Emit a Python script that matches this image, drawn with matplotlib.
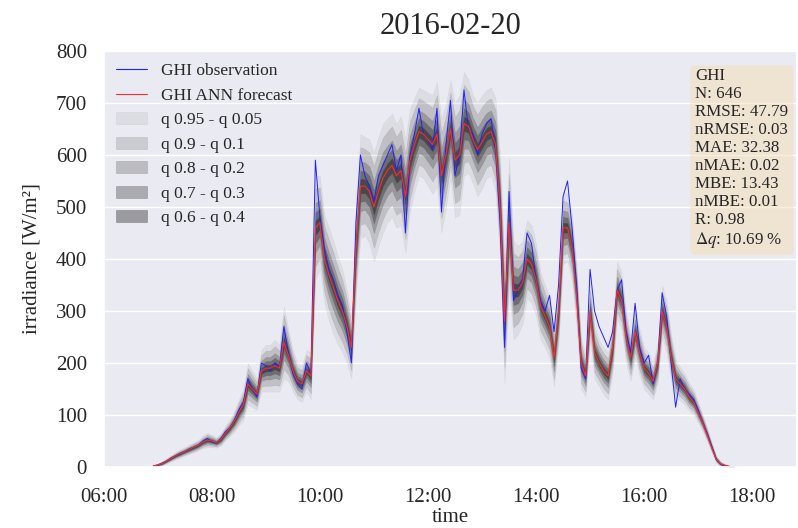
import numpy as np
import pandas as pd
import matplotlib
matplotlib.use("Agg")
import matplotlib.pyplot as plt
import matplotlib.dates as mdates
import seaborn as sns
from matplotlib.lines import Line2D
from matplotlib.patches import Patch

# Werte (5-Minuten-Raster, 06:55 - 17:40)
zeit = pd.date_range("2016-02-20 06:55", "2016-02-20 17:40", freq="5min")

ghi_obs = [2, 4, 8, 12, 18, 22, 27, 30,
           35, 38, 42, 50, 55, 48,
           46, 55, 68, 75, 90, 110,
           125, 170, 150, 135, 200, 195,
           185, 200, 190, 270, 220, 180,
           160, 150, 200, 180, 590, 480,
           420, 380, 360, 330, 310, 260,
           200, 470, 600, 560, 540, 510,
           560, 580, 600, 620, 570, 600,
           450, 600, 640, 690, 640, 630,
           610, 690, 490, 620, 705, 560,
           600, 725, 650, 640, 600, 640,
           660, 670, 610, 470, 230, 530,
           320, 340, 360, 450, 430, 360,
           320, 300, 330, 260, 350, 520,
           550, 460, 350, 190, 170, 380,
           300, 270, 250, 230, 260, 340,
           360, 260, 220, 315, 230, 200,
           215, 160, 200, 335, 290, 200,
           115, 170, 150, 140, 130, 110,
           85, 65, 40, 15, 5, 2, 1, 0]

ghi_ann = [2, 4, 7, 12, 17, 22, 26, 30,
           34, 38, 42, 48, 52, 50,
           47, 53, 65, 75, 88, 105,
           120, 160, 150, 140, 185, 190,
           190, 195, 190, 240, 215, 185,
           165, 160, 185, 175, 460, 470,
           400, 370, 345, 320, 300, 270,
           230, 420, 540, 540, 530, 500,
           530, 555, 570, 580, 560, 570,
           520, 590, 620, 645, 640, 630,
           620, 640, 560, 600, 650, 590,
           600, 660, 655, 630, 610, 625,
           640, 645, 620, 500, 280, 470,
           340, 340, 355, 400, 390, 360,
           310, 290, 270, 210, 300, 460,
           460, 420, 330, 200, 175, 300,
           220, 200, 185, 175, 230, 340,
           320, 250, 210, 260, 220, 190,
           180, 165, 200, 300, 270, 210,
           170, 160, 150, 135, 125, 105,
           85, 62, 38, 15, 6, 3, 1, 0]

# halbe Breite des q0.95 - q0.05 Bandes
spread = [2, 3, 4, 5, 6, 7, 8, 8,
          9, 10, 10, 12, 14, 12,
          10, 12, 14, 16, 20, 25,
          30, 40, 35, 30, 40, 45,
          45, 50, 45, 70, 50, 40,
          35, 35, 40, 45, 100, 90,
          85, 90, 90, 85, 80, 70,
          60, 90, 100, 95, 100, 105,
          105, 105, 100, 100, 100, 105,
          110, 100, 90, 85, 85, 90,
          95, 100, 110, 100, 95, 110,
          115, 100, 90, 85, 90, 90,
          85, 85, 90, 100, 120, 125,
          95, 85, 80, 75, 75, 70,
          65, 60, 60, 55, 65, 70,
          65, 65, 60, 50, 40, 55,
          50, 45, 45, 45, 50, 55,
          55, 50, 45, 50, 45, 40,
          40, 35, 40, 50, 50, 45,
          38, 32, 30, 27, 24, 20,
          16, 13, 10, 7, 5, 3, 2, 1]

quantil_labels = ["q 0.95 - q 0.05", "q 0.9 - q 0.1", "q 0.8 - q 0.2",
                  "q 0.7 - q 0.3", "q 0.6 - q 0.4"]
band_anteil = [1.0, 0.75, 0.48, 0.3, 0.14]

stats_text = "\n".join([
    "GHI",
    "N: 646",
    "RMSE: 47.79",
    "nRMSE: 0.03",
    "MAE: 32.38",
    "nMAE: 0.02",
    "MBE: 13.43",
    "nMBE: 0.01",
    "R: 0.98",
    r"$\Delta q$: 10.69 %",
])

sns.set_theme(style="darkgrid")
plt.rcParams["font.family"] = ["Liberation Serif", "DejaVu Serif"]
plt.rcParams["mathtext.fontset"] = "stix"

fig = plt.figure(figsize=(7.98, 5.28), dpi=100)
ax = fig.add_axes([0.130, 0.1155, 0.869, 0.788])

fc = np.array(ghi_ann, dtype=float)
sp = np.array(spread, dtype=float)
alphas = [0.06, 0.13, 0.2, 0.27, 0.34]
for anteil, a in zip(band_anteil, alphas):
    ax.fill_between(zeit, np.clip(fc - sp * anteil, 0, None), fc + sp * anteil,
                    facecolor="black", alpha=a, edgecolor="#444444", linewidth=0.4)

ax.plot(zeit, ghi_obs, color="#2020ff", linewidth=0.7)
ax.plot(zeit, ghi_ann, color="#ff2a2a", linewidth=0.8)

ax.set_ylim(0, 800)
ax.set_xlim(pd.Timestamp("2016-02-20 06:00"), pd.Timestamp("2016-02-20 18:50"))
ax.xaxis.set_major_locator(mdates.HourLocator(byhour=range(6, 20, 2)))
ax.xaxis.set_major_formatter(mdates.DateFormatter("%H:%M"))
ax.grid(axis="x", visible=False)
ax.tick_params(axis="both", labelsize=15, length=0)
ax.tick_params(axis="y", pad=12)
ax.tick_params(axis="x", pad=15)

ax.set_xlabel("time", fontsize=15, labelpad=1)
ax.set_ylabel("irradiance [W/m²]", fontsize=15, labelpad=10)
ax.set_title("2016-02-20", fontsize=22, pad=12)

handles = [Line2D([], [], color="#2020ff", linewidth=0.8),
           Line2D([], [], color="#ff2a2a", linewidth=0.8)]
for a in alphas:
    handles.append(Patch(facecolor="black", alpha=a, edgecolor="#444444", linewidth=0.6))
ax.legend(handles, ["GHI observation", "GHI ANN forecast"] + quantil_labels,
          loc="upper left", frameon=False, fontsize=12.5, handlelength=1.8,
          handletextpad=0.8, labelspacing=0.48, borderaxespad=0.3)

ax.text(0.853, 0.958, stats_text, transform=ax.transAxes, va="top", ha="left",
        fontsize=12.2, linespacing=1.16,
        bbox=dict(boxstyle="round", facecolor="wheat", alpha=0.5, edgecolor="none"))

fig.savefig("out.png", dpi=100)
